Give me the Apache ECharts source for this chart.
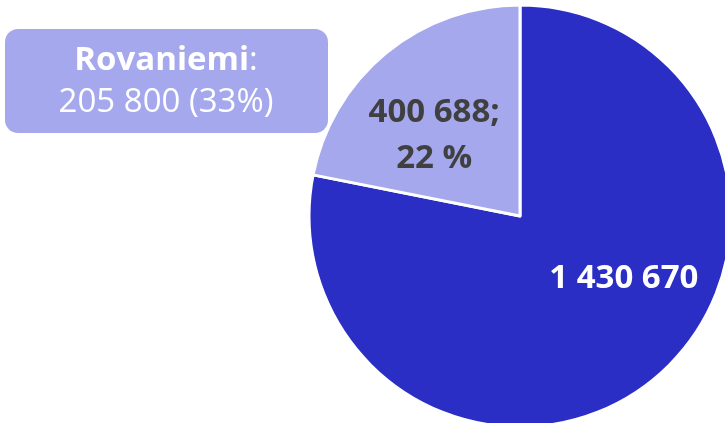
<!DOCTYPE html>
<html>
<head>
<meta charset="utf-8">
<script src="https://cdn.jsdelivr.net/npm/echarts@6/dist/echarts.min.js"></script>
<style>
  html, body { margin: 0; padding: 0; background: #fff; }
  #chart { width: 725px; height: 423px; }
</style>
</head>
<body>
<div id="chart"></div>
<script>
// data
const categories = ['Muut', 'Lappi']
const values = [1430670, 400688]
const colors = ['#2a2ec4', '#a5a8ec']
const labelColors = ['#ffffff', '#404040']
const showPercent = [false, true]

// callout box
const calloutName = 'Rovaniemi'
const calloutValue = 205800
const calloutPercent = 33

const fmt = (n) => String(n).replace(/\B(?=(\d{3})+(?!\d))/g, ' ')
const total = values.reduce((a, b) => a + b, 0)

const font = '"Open Sans", "Noto Sans", sans-serif'

// label nudges (inside position sits at r/2, reference is a bit off that)
const labelShift = [[35, -21], [-17, 3]]

const chart = echarts.init(document.getElementById('chart'))

const option = {
    animation: false,
    series: [
        {
            type: 'pie',
            center: [520, 216],
            radius: [0, 211],
            startAngle: 90,
            clockwise: true,
            data: categories.map((name, i) => ({
                name: name,
                value: values[i],
                itemStyle: { color: colors[i] },
                label: { color: labelColors[i] },
            })),
            itemStyle: {
                borderColor: '#ffffff',
                borderWidth: 3,
            },
            label: {
                show: true,
                position: 'inside',
                fontFamily: font,
                fontWeight: 'bold',
                fontSize: 33,
                lineHeight: 46,
                formatter: (p) => {
                    let s = fmt(p.value)
                    if (showPercent[p.dataIndex]) {
                        s += ';\n' + Math.round(p.value / total * 100) + ' %'
                    }
                    return s
                },
            },
            labelLine: { show: false },
            labelLayout: (p) => ({
                dx: labelShift[p.dataIndex][0],
                dy: labelShift[p.dataIndex][1],
            }),
            emphasis: { disabled: true },
        },
    ],
    graphic: [
        {
            type: 'rect',
            shape: { x: 5, y: 29, width: 323, height: 104, r: 13 },
            style: { fill: '#a5a8ec' },
        },
        {
            type: 'text',
            x: 166,
            y: 82,
            style: {
                text: '{b|' + calloutName + '}:\n' + fmt(calloutValue) + ' (' + calloutPercent + '%)',
                fill: '#ffffff',
                font: '33px ' + font,
                align: 'center',
                verticalAlign: 'middle',
                lineHeight: 42,
                rich: {
                    b: {
                        fontFamily: font,
                        fontWeight: 'bold',
                        fontSize: 33,
                        fill: '#ffffff',
                        lineHeight: 42,
                    },
                },
            },
        },
    ],
}

chart.setOption(option)
</script>
</body>
</html>
